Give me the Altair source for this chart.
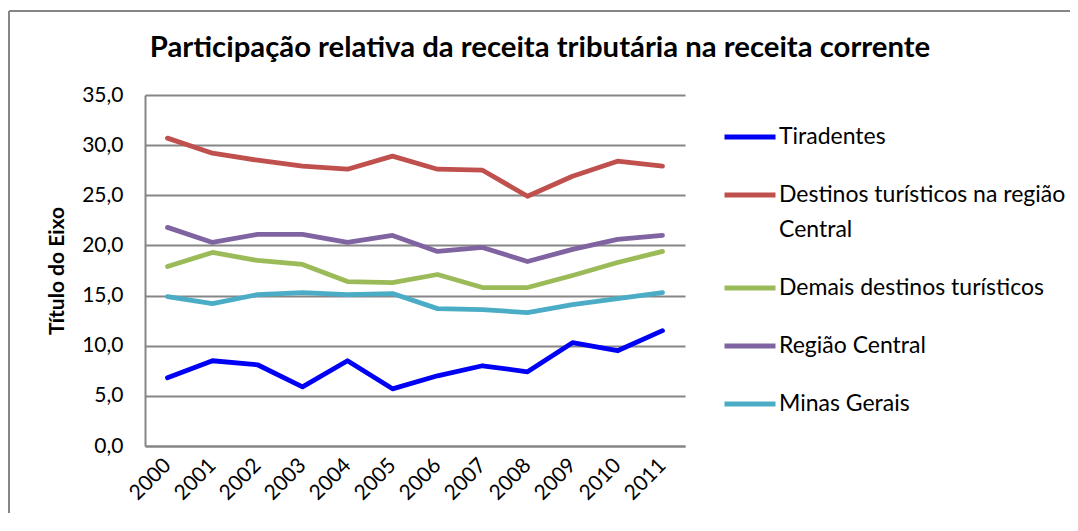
import altair as alt
import pandas as pd

years = ["2000", "2001", "2002", "2003", "2004", "2005", "2006", "2007", "2008", "2009", "2010", "2011"]
series_names = [
    "Tiradentes",
    "Destinos turísticos na região Central",
    "Demais destinos turísticos",
    "Região Central",
    "Minas Gerais",
]
tiradentes = [6.8, 8.5, 8.1, 5.9, 8.5, 5.7, 7.0, 8.0, 7.4, 10.3, 9.5, 11.5]
destinos_central = [30.7, 29.2, 28.5, 27.9, 27.6, 28.9, 27.6, 27.5, 24.9, 26.9, 28.4, 27.9]
demais_destinos = [17.9, 19.3, 18.5, 18.1, 16.4, 16.3, 17.1, 15.8, 15.8, 17.0, 18.3, 19.4]
regiao_central = [21.8, 20.3, 21.1, 21.1, 20.3, 21.0, 19.4, 19.8, 18.4, 19.6, 20.6, 21.0]
minas_gerais = [14.9, 14.2, 15.1, 15.3, 15.1, 15.2, 13.7, 13.6, 13.3, 14.1, 14.7, 15.3]
colors = ["#0000F5", "#C0504D", "#9BBB59", "#8064A2", "#4BACC6"]
title_text = "Participação relativa da receita tributária na receita corrente"
y_title = "Título do Eixo"

values = [tiradentes, destinos_central, demais_destinos, regiao_central, minas_gerais]
rows = []
for name, vals in zip(series_names, values):
    for yr, v in zip(years, vals):
        rows.append({"Ano": yr, "Série": name, "Valor": v})
df = pd.DataFrame(rows)

FONT = "Lato"
W, H = 540, 351

lines = alt.Chart(df).mark_line(strokeWidth=4.8, strokeJoin="round", strokeCap="round").encode(
    x=alt.X("Ano:O", sort=years, scale=alt.Scale(padding=0.5),
            axis=alt.Axis(title=None, labelAngle=-45, labelAlign="right", labelBaseline="middle",
                          labelFontSize=21, labelFont=FONT, labelColor="#000000", labelPadding=16,
                          ticks=False, domain=True, domainColor="#868686", domainWidth=2,
                          grid=False)),
    y=alt.Y("Valor:Q", scale=alt.Scale(domain=[0, 35], nice=False),
            axis=alt.Axis(values=[0, 5, 10, 15, 20, 25, 30, 35],
                          labelExpr="replace(format(datum.value, '.1f'), '.', ',')",
                          labelFontSize=21, labelFont=FONT, labelColor="#000000", labelPadding=22,
                          ticks=False, domain=True, domainColor="#868686", domainWidth=2,
                          grid=True, gridColor="#868686", gridWidth=2,
                          title=y_title, titleFont=FONT, titleFontSize=21, titleFontWeight="bold",
                          titleColor="#000000", titleAngle=270, titleX=-88, titleY=H / 2,
                          titleAlign="center", titleBaseline="middle")),
    color=alt.Color("Série:N", sort=series_names,
                    scale=alt.Scale(domain=series_names, range=colors),
                    legend=alt.Legend(title=None, orient="none", legendX=577, legendY=14,
                                      symbolType="stroke", symbolSize=2601, symbolStrokeWidth=5,
                                      labelFont=FONT, labelFontSize=23, labelColor="#000000",
                                      labelOffset=1, rowPadding=18, labelLimit=400,
                                      labelExpr="datum.label == 'Destinos turísticos na região Central' ? ['Destinos turísticos na região', 'Central'] : datum.label")),
    order=alt.Order("Ano:O"),
)

title = alt.Chart(pd.DataFrame({"t": [title_text]})).mark_text(
    font=FONT, fontSize=29.3, fontWeight="bold", color="#000000", align="center", baseline="alphabetic"
).encode(text="t:N", x=alt.value(395), y=alt.value(-38))

border_top = alt.Chart(pd.DataFrame({"a": [0]})).mark_rule(color="#868686", strokeWidth=2).encode(
    x=alt.value(-136), x2=alt.value(933), y=alt.value(-84))
border_left = alt.Chart(pd.DataFrame({"a": [0]})).mark_rule(color="#868686", strokeWidth=2).encode(
    x=alt.value(-136), y=alt.value(-84), y2=alt.value(460))

chart = alt.layer(border_top, border_left, lines, title).properties(
    width=W, height=H,
    autosize=alt.AutoSizeParams(type="none"),
    padding={"left": 137, "top": 87, "right": 385, "bottom": 67},
    background="#FFFFFF",
).configure(
    view=alt.ViewConfig(stroke=None),
    style={"guide-label": {"lineHeight": 35}},
)

chart.save("out.html", embed_options={"renderer": "svg", "actions": False})
